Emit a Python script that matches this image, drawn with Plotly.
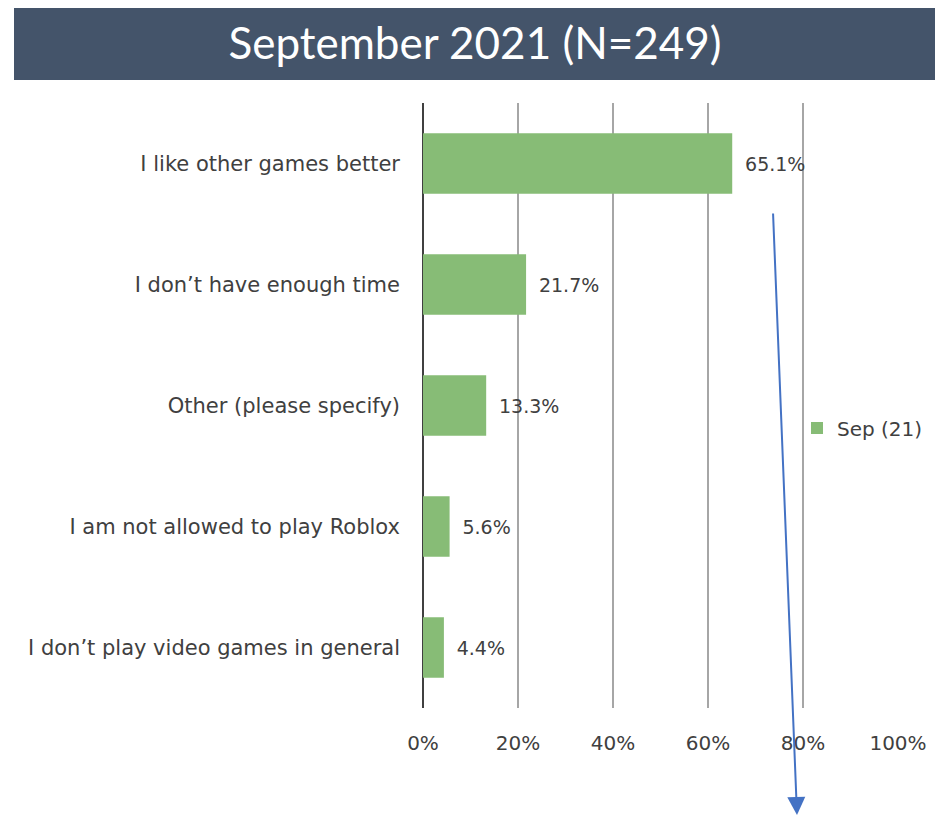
import plotly.graph_objects as go

categories = [
    "I like other games better",
    "I don\u2019t have enough time",
    "Other (please specify)",
    "I am not allowed to play Roblox",
    "I don\u2019t play video games in general",
]
values = [65.1, 21.7, 13.3, 5.6, 4.4]
series_name = "Sep (21)"
tick_vals = [0, 20, 40, 60, 80, 100]
tick_text = ["0%", "20%", "40%", "60%", "80%", "100%"]
title_text = "September 2021 (N=249)"

# page has an 8px body margin; work in page pixels and convert
OFF = 8
W, H = 943 - OFF, 817 - OFF
PL, PR, PT, PB = 423, 898, 103, 708  # plot area in page pixels
L, R, T, B = PL - OFF, W - (PR - OFF), PT - OFF, H - (PB - OFF)
pw, ph = PR - PL, PB - PT

def px_x(x):
    return (x - PL) / pw

def px_y(y):
    return (PB - y) / ph

FONT = "DejaVu Sans"

fig = go.Figure()
fig.add_trace(go.Bar(
    y=categories, x=values, orientation="h", name=series_name,
    marker=dict(color="#87BC76", line=dict(width=0)),
    text=[" \u2009" + f"{v:.1f}%" for v in values], textposition="outside",
    textfont=dict(family=FONT, size=19, color="#404040"),
    cliponaxis=False, width=0.5, showlegend=True,
))

fig.update_layout(
    width=W, height=H,
    margin=dict(l=L, r=R, t=T, b=B, autoexpand=False),
    paper_bgcolor="white", plot_bgcolor="white",
    font=dict(family=FONT, color="#404040"),
    title=dict(text=title_text, x=(475 - OFF) / W, xanchor="center", y=1 - (44 - OFF) / H,
               yanchor="middle", font=dict(family="Lato", size=44, color="white")),
    xaxis=dict(range=[0, 100], tickvals=tick_vals, ticktext=tick_text,
               showgrid=True, gridcolor="#A6A6A6", gridwidth=2,
               zeroline=True, zerolinecolor="#404040", zerolinewidth=2,
               tickfont=dict(family=FONT, size=20, color="#404040"),
               ticklabelstandoff=21, showline=False, fixedrange=True),
    yaxis=dict(categoryorder="array", categoryarray=categories, autorange="reversed",
               tickfont=dict(family=FONT, size=21, color="#404040"),
               ticklabelstandoff=22, showline=False, showgrid=False),
    legend=dict(x=px_x(797), y=px_y(428), xanchor="left", yanchor="middle",
                bgcolor="rgba(0,0,0,0)", font=dict(family=FONT, size=20, color="#404040")),
    bargap=0.5,
    shapes=[dict(type="rect", xref="paper", yref="paper",
                 x0=px_x(14), x1=px_x(937), y0=px_y(80), y1=px_y(0),
                 fillcolor="#44546A", line=dict(width=0), layer="below")],
    annotations=[dict(xref="paper", yref="paper", x=px_x(797), y=px_y(815),
                      ax=773 - 797, ay=212 - 815, axref="pixel", ayref="pixel",
                      text="", showarrow=True, arrowhead=2, arrowsize=1.8,
                      arrowwidth=2, arrowcolor="#4472C4")],
)

fig.write_html("out.html")
